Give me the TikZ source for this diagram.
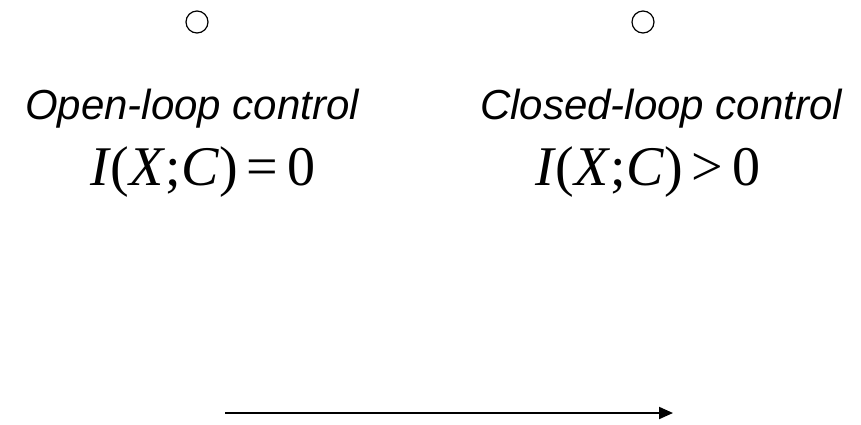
\documentclass[tikz,border=0pt]{standalone}
\usepackage{fontspec}
\setmainfont{Liberation Serif}
\newfontfamily\labelfont{Liberation Sans}
\usetikzlibrary{arrows.meta}

\begin{document}
\begin{tikzpicture}[x=1pt, y=-1pt, >={Triangle[length=14pt,width=12pt]},
  dot/.style={draw, circle, line width=1.2pt, minimum size=22pt, inner sep=0pt},
  ctrllabel/.style={font=\labelfont\itshape\fontsize{42}{42}\selectfont, inner sep=0pt, anchor=base},
  infoeq/.style={font=\fontsize{56}{56}\selectfont, inner sep=0pt, anchor=base}]
\useasboundingbox (0,0) rectangle (861,424);
\node[dot] (dotopen) at (197,22) {};
\node[dot] (dotclosed) at (643,22) {};
\node[ctrllabel] (lblopen) at (192,119) {Open-loop control};
\node[ctrllabel] (lblclosed) at (661,119) {Closed-loop control};
\node[infoeq] (eqopen) at (203,185) {\textit{I}(\textit{X};\textit{C})\,=\,0};
\node[infoeq] (eqclosed) at (648,185) {\textit{I}(\textit{X};\textit{C})\,>\,0};
\coordinate (arrstart) at (225,413);
\coordinate (arrend) at (673,413);
\draw[->, line width=2pt] (arrstart) -- (arrend);
\end{tikzpicture}
\end{document}
